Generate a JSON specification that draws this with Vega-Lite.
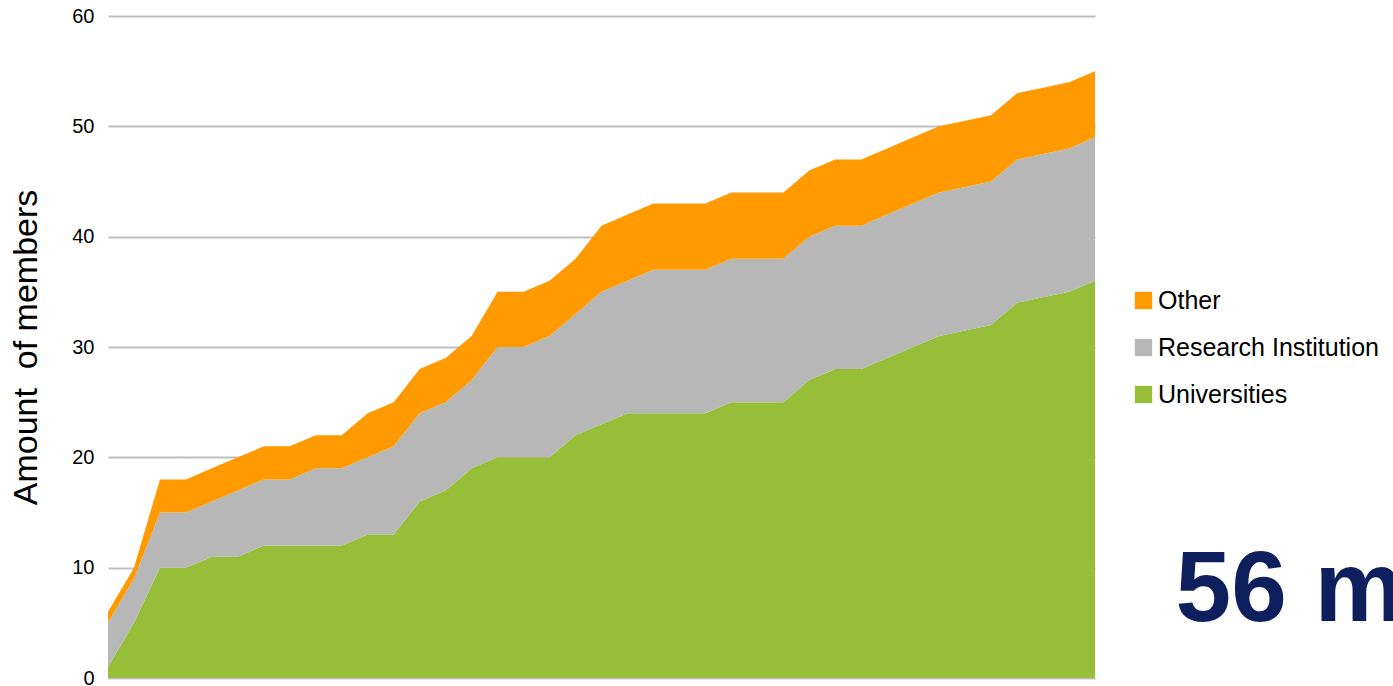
{
  "$schema": "https://vega.github.io/schema/vega-lite/v6.json",
  "width": 987,
  "height": 662,
  "autosize": {"type": "none"},
  "padding": {"left": 108, "top": 16, "right": 298, "bottom": 8},
  "config": {
    "view": {"stroke": null},
    "font": "Liberation Sans",
    "background": "#ffffff"
  },
  "datasets": {
    "wide": [
      {"month": 0, "u": 1, "r": 4, "o": 1},
      {"month": 1, "u": 5, "r": 4, "o": 1},
      {"month": 2, "u": 10, "r": 5, "o": 3},
      {"month": 3, "u": 10, "r": 5, "o": 3},
      {"month": 4, "u": 11, "r": 5, "o": 3},
      {"month": 5, "u": 11, "r": 6, "o": 3},
      {"month": 6, "u": 12, "r": 6, "o": 3},
      {"month": 7, "u": 12, "r": 6, "o": 3},
      {"month": 8, "u": 12, "r": 7, "o": 3},
      {"month": 9, "u": 12, "r": 7, "o": 3},
      {"month": 10, "u": 13, "r": 7, "o": 4},
      {"month": 11, "u": 13, "r": 8, "o": 4},
      {"month": 12, "u": 16, "r": 8, "o": 4},
      {"month": 13, "u": 17, "r": 8, "o": 4},
      {"month": 14, "u": 19, "r": 8, "o": 4},
      {"month": 15, "u": 20, "r": 10, "o": 5},
      {"month": 16, "u": 20, "r": 10, "o": 5},
      {"month": 17, "u": 20, "r": 11, "o": 5},
      {"month": 18, "u": 22, "r": 11, "o": 5},
      {"month": 19, "u": 23, "r": 12, "o": 6},
      {"month": 20, "u": 24, "r": 12, "o": 6},
      {"month": 21, "u": 24, "r": 13, "o": 6},
      {"month": 22, "u": 24, "r": 13, "o": 6},
      {"month": 23, "u": 24, "r": 13, "o": 6},
      {"month": 24, "u": 25, "r": 13, "o": 6},
      {"month": 25, "u": 25, "r": 13, "o": 6},
      {"month": 26, "u": 25, "r": 13, "o": 6},
      {"month": 27, "u": 27, "r": 13, "o": 6},
      {"month": 28, "u": 28, "r": 13, "o": 6},
      {"month": 29, "u": 28, "r": 13, "o": 6},
      {"month": 30, "u": 29, "r": 13, "o": 6},
      {"month": 31, "u": 30, "r": 13, "o": 6},
      {"month": 32, "u": 31, "r": 13, "o": 6},
      {"month": 34, "u": 32, "r": 13, "o": 6},
      {"month": 35, "u": 34, "r": 13, "o": 6},
      {"month": 37, "u": 35, "r": 13, "o": 6},
      {"month": 38, "u": 36, "r": 13, "o": 6}
    ],
    "note": [{"x": 41.1, "y": 5.17, "label": "56 m"}]
  },
  "layer": [
    {
      "data": {"name": "wide"},
      "transform": [
        {"fold": ["u", "r", "o"], "as": ["key", "count"]},
        {"lookup": "key", "from": {"data": {"values": [
          {"key": "u", "type": "Universities"},
          {"key": "r", "type": "Research Institution"},
          {"key": "o", "type": "Other"}
        ]}, "key": "key", "fields": ["type"]}}
      ],
      "mark": {"type": "area", "interpolate": "linear"},
      "encoding": {
        "x": {"field": "month", "type": "quantitative", "scale": {"domain": [0, 38], "nice": false, "zero": false}, "axis": null},
        "y": {
          "field": "count", "type": "quantitative", "stack": "zero",
          "scale": {"domain": [0, 60], "nice": false},
          "axis": {
            "values": [0, 10, 20, 30, 40, 50, 60],
            "title": "Amount\u00a0\u00a0of members",
            "grid": true, "domain": false, "ticks": false,
            "labelFontSize": 20, "labelPadding": 14, "labelColor": "#000000",
            "titleFontSize": 34, "titlePadding": 28, "titleColor": "#000000", "titleFontWeight": "normal",
            "gridColor": "#BFBFBF", "gridWidth": 2
          }
        },
        "color": {
          "field": "type", "type": "nominal",
          "scale": {"domain": ["Other", "Research Institution", "Universities"], "range": ["#FF9B00", "#B7B7B7", "#97BE38"]},
          "legend": {
            "title": null, "orient": "none", "legendX": 1023, "legendY": 272,
            "symbolType": "square", "symbolSize": 300, "symbolStrokeWidth": 0, "symbolOpacity": 1,
            "labelFontSize": 25, "labelColor": "#000000", "labelOffset": 2, "labelLimit": 0, "rowPadding": 21, "padding": 0
          }
        },
        "order": {"field": "type", "sort": "descending"}
      }
    },
    {
      "data": {"name": "note"},
      "mark": {"type": "text", "font": "Liberation Sans", "fontWeight": "bold", "fontSize": 100, "color": "#0D1F5C", "align": "left", "baseline": "alphabetic"},
      "encoding": {
        "x": {"field": "x", "type": "quantitative"},
        "y": {"field": "y", "type": "quantitative"},
        "text": {"field": "label"}
      }
    }
  ]
}
